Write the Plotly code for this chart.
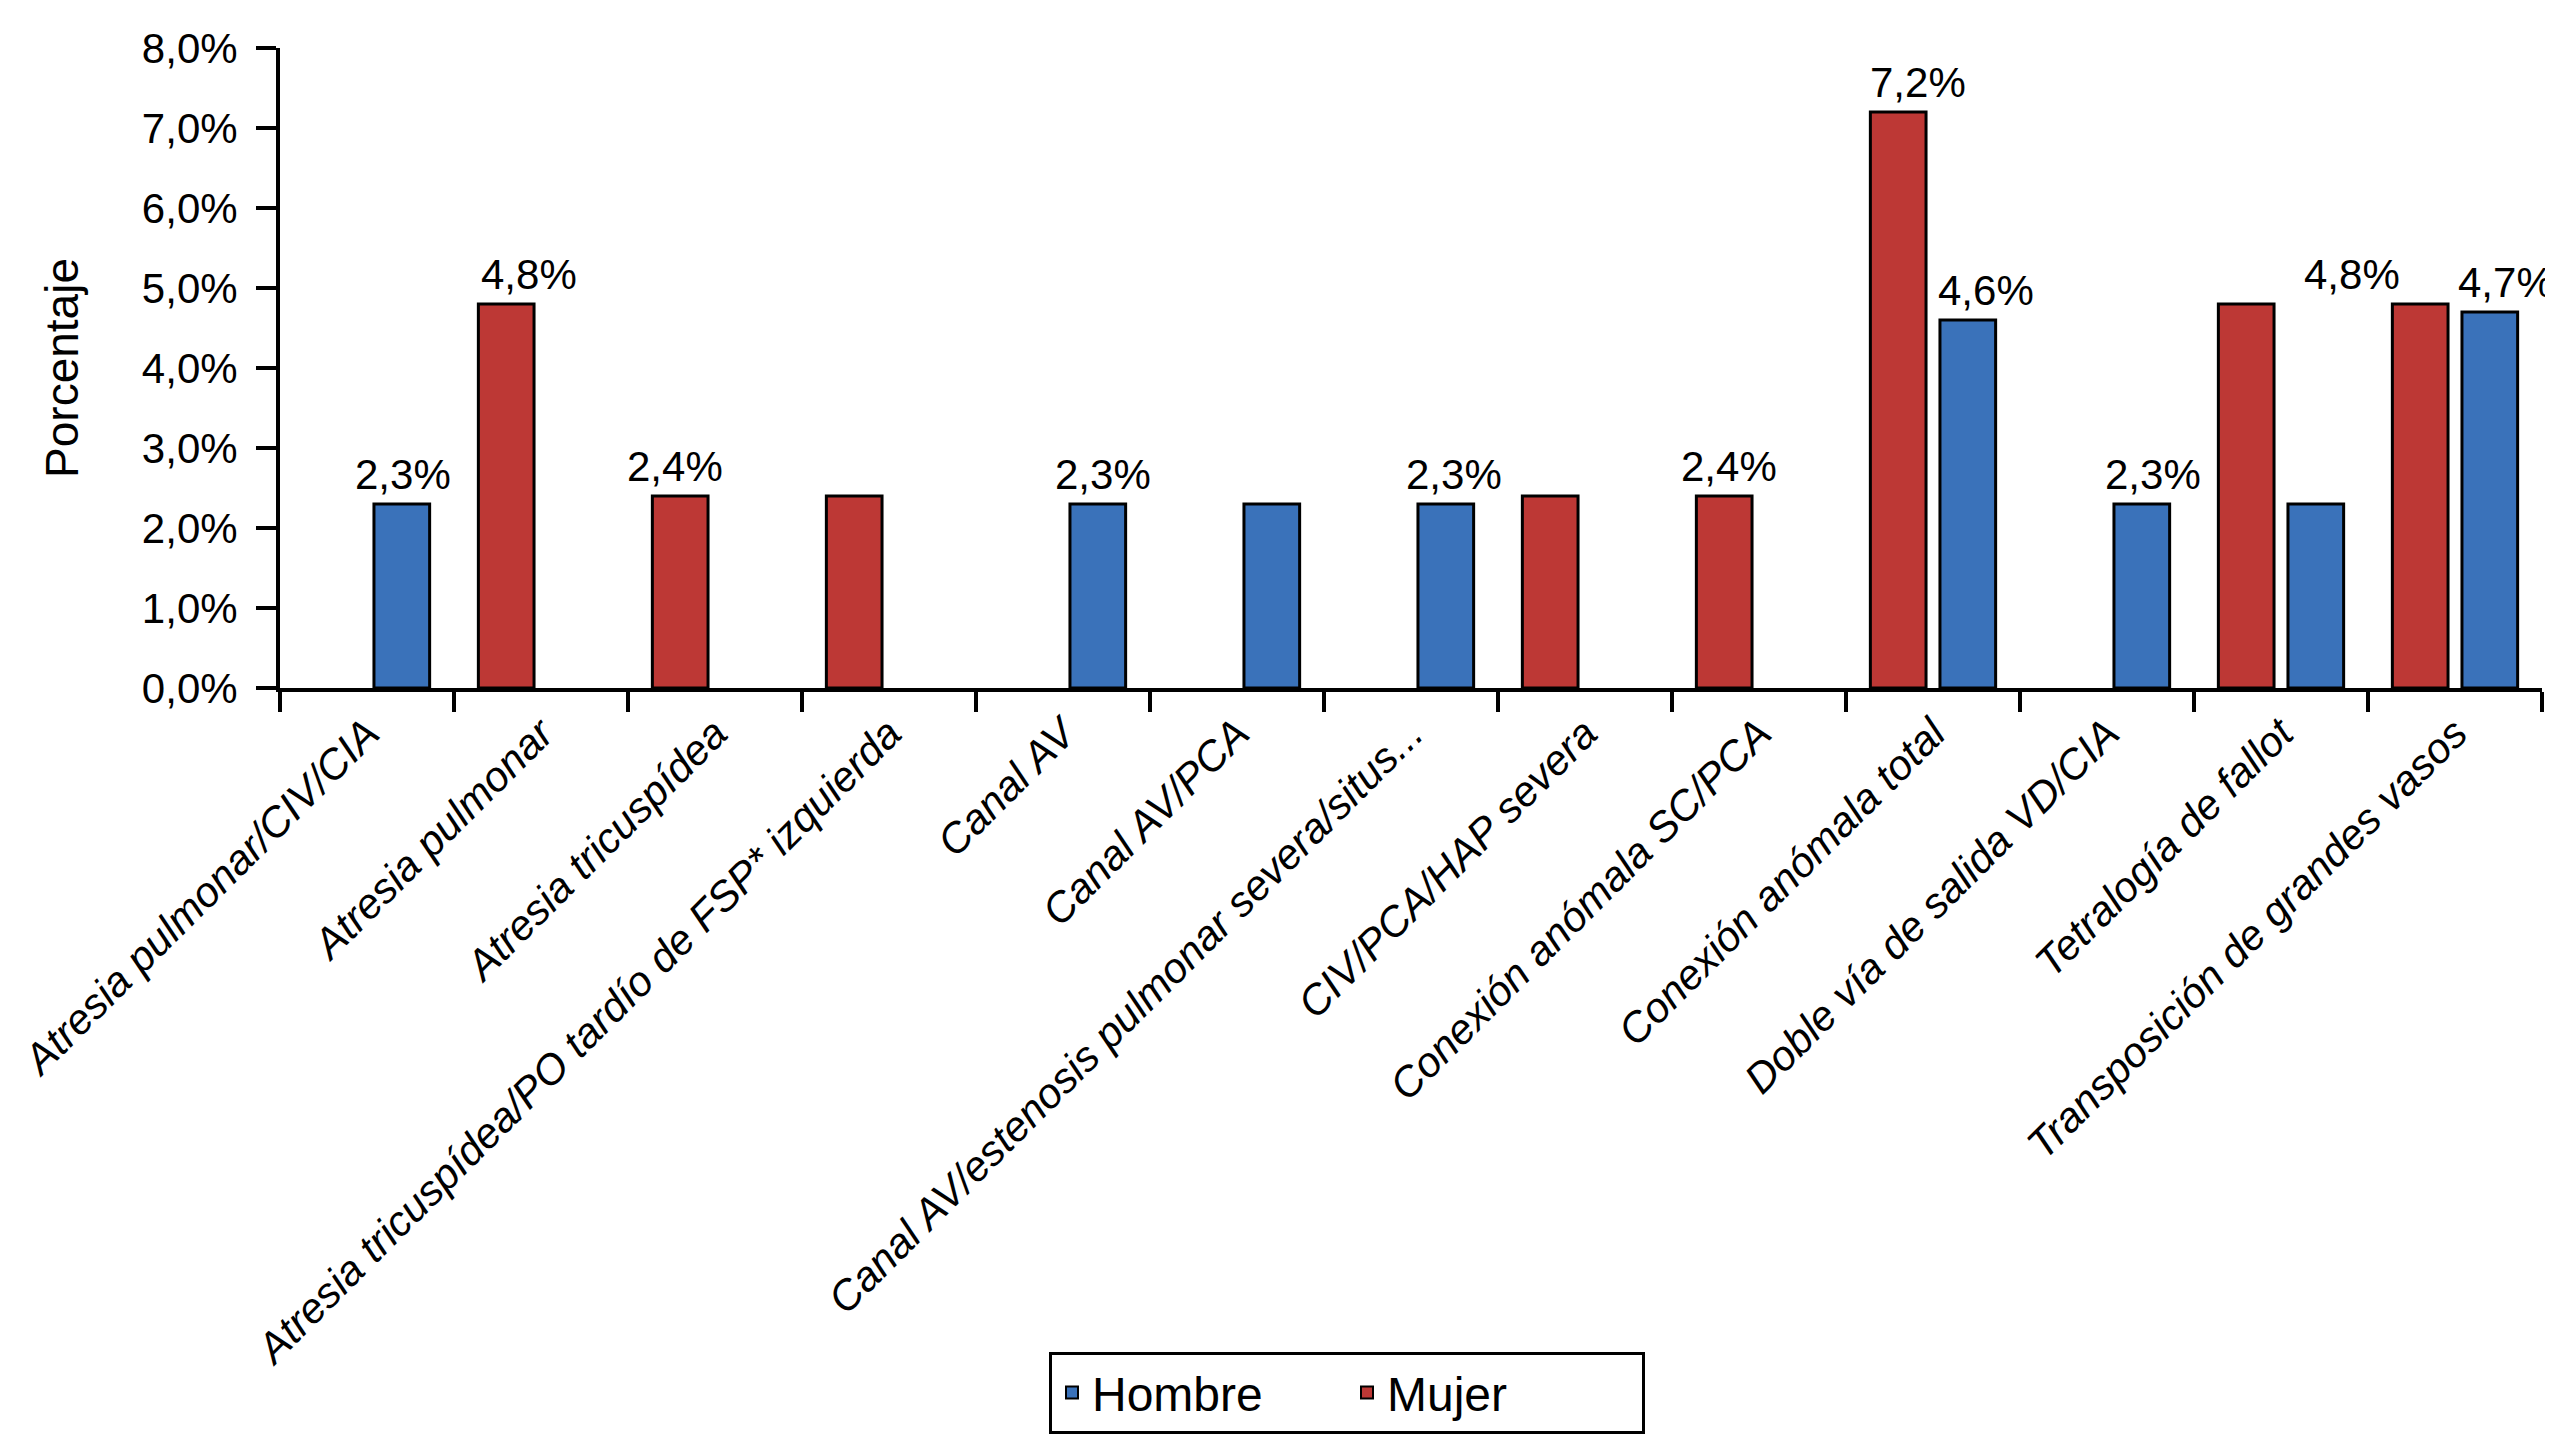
import plotly.graph_objects as go

categories = [
    "Atresia pulmonar/CIV/CIA",
    "Atresia pulmonar",
    "Atresia tricuspídea",
    "Atresia tricuspídea/PO tardío de FSP* izquierda",
    "Canal AV",
    "Canal AV/PCA",
    "Canal AV/estenosis pulmonar severa/situs...",
    "CIV/PCA/HAP severa",
    "Conexión anómala SC/PCA",
    "Conexión anómala total",
    "Doble vía de salida VD/CIA",
    "Tetralogía de fallot",
    "Transposición de grandes vasos",
]
hombre = [2.3, None, None, None, 2.3, 2.3, 2.3, None, None, 4.6, 2.3, 2.3, 4.7]
mujer = [None, 4.8, 2.4, 2.4, None, None, None, 2.4, 2.4, 7.2, None, 4.8, 4.8]
# which bars carry a value label
hombre_labeled = [True, False, False, False, True, False, True, False, False, True, True, False, True]
mujer_labeled = [False, True, True, False, False, False, False, False, True, True, False, False, True]
y_ticks = [0, 1, 2, 3, 4, 5, 6, 7, 8]
y_tick_labels = ["0,0%", "1,0%", "2,0%", "3,0%", "4,0%", "5,0%", "6,0%", "7,0%", "8,0%"]

# small label nudges (pixels) so labels sit as in the original
hombre_nudge = {0: 1, 4: 5, 6: 8, 9: 18, 10: 11, 12: 16}
mujer_nudge = {1: 23, 2: -5, 8: 5, 9: 20, 12: -68}

BLUE = "#3A72BA"
RED = "#BD3835"
FONT = "Liberation Sans, Arial, Helvetica, sans-serif"

fig = go.Figure()
fig.add_trace(go.Bar(
    x=categories, y=mujer, name="Mujer", legendrank=2,
    marker=dict(color=RED, line=dict(color="black", width=3)),
))
fig.add_trace(go.Bar(
    x=categories, y=hombre, name="Hombre", legendrank=1,
    marker=dict(color=BLUE, line=dict(color="black", width=3)),
))

def fmt(v):
    return f"{v:.1f}%".replace(".", ",")

annotations = []
for i, (v, lab) in enumerate(zip(mujer, mujer_labeled)):
    if lab and v is not None:
        annotations.append(dict(x=i - 0.2, y=v, xref="x", yref="y", text=fmt(v),
                                showarrow=False, yanchor="bottom", yshift=4,
                                xshift=mujer_nudge.get(i, 0),
                                font=dict(family=FONT, size=42, color="black")))
for i, (v, lab) in enumerate(zip(hombre, hombre_labeled)):
    if lab and v is not None:
        annotations.append(dict(x=i + 0.2, y=v, xref="x", yref="y", text=fmt(v),
                                showarrow=False, yanchor="bottom", yshift=4,
                                xshift=hombre_nudge.get(i, 0),
                                font=dict(family=FONT, size=42, color="black")))

fig.update_layout(
    width=2553, height=1453,
    margin=dict(l=272, r=19, t=40, b=773),
    paper_bgcolor="white", plot_bgcolor="white",
    barmode="group", bargap=0.2, bargroupgap=0.2,
    separators=",.",
    font=dict(family=FONT, size=42, color="black"),
    annotations=annotations,
    showlegend=True,
    legend=dict(
        orientation="h", x=0.4717, xanchor="center", y=-1.037, yanchor="top",
        bordercolor="black", borderwidth=3, bgcolor="white",
        font=dict(family=FONT, size=48, color="black"),
        entrywidth=250, itemsizing="constant",
    ),
)
fig.update_xaxes(
    type="category", range=[-0.5, 12.5], automargin=False,
    showline=True, linecolor="black", linewidth=4,
    ticks="outside", ticklen=20, tickwidth=4, tickcolor="black",
    tickson="boundaries", tickangle=-45,
    tickfont=dict(family=FONT, size=42, color="black", style="italic"),
    showgrid=False, zeroline=False,
)
fig.update_yaxes(
    range=[0, 8], tickvals=y_ticks, ticktext=y_tick_labels, automargin=False,
    showline=True, linecolor="black", linewidth=4,
    ticks="outside", ticklen=20, tickwidth=4, tickcolor="black",
    tickfont=dict(family=FONT, size=42, color="black"),
    ticklabelstandoff=10,
    showgrid=False, zeroline=False,
    title=dict(text="Porcentaje", font=dict(family=FONT, size=46, color="black"), standoff=50),
)

fig.write_html("out.html")
